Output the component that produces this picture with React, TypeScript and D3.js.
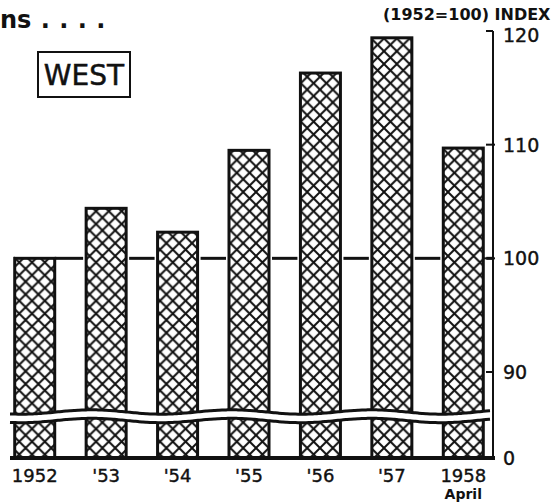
import React from "react";
import * as d3 from "d3";

const categories = ["1952", "'53", "'54", "'55", "'56", "'57", "1958"];
const values = [100, 104.4, 102.3, 109.5, 116.3, 119.4, 109.7];
const tickValues = [120, 110, 100, 90];
const tickLabels = ["120", "110", "100", "90"];
const zeroLabel = "0";
const subLabel = "April";
const indexTitle = "(1952=100) INDEX";
const regionLabel = "WEST";
const headText = "ns . . . .";

export default function App() {
  const W = 559, H = 503;
  const axisX = 493;
  const baseY = 458;
  const y = d3.scaleLinear().domain([90, 120]).range([372, 31]);
  const x = d3.scaleBand<string>().domain(categories).range([-1, 499]).paddingInner(0.44).paddingOuter(0.22);

  const wave = (y0: number, phase: number) => {
    const pts: [number, number][] = [];
    for (let px = 10; px <= axisX; px += 4) {
      pts.push([px, y0 + 2.2 * Math.sin((px / 140) * 2 * Math.PI + phase)]);
    }
    return pts;
  };
  const upper = wave(412, 0.6);
  const lower = wave(420.5, 0.6);
  const lineGen = d3.line<[number, number]>().curve(d3.curveBasis);
  const bandPts = [...upper, ...lower.slice().reverse()];

  const segs: [number, number][] = [];
  categories.forEach((c, i) => {
    const start = x(c)! + x.bandwidth() + (i === 0 ? 0 : 3);
    const end = i < categories.length - 1 ? x(categories[i + 1])! - 3 : axisX;
    segs.push([start, end]);
  });
  segs.unshift([14, x(categories[0])!]);

  const font = "'DejaVu Sans', sans-serif";

  return (
    <svg width={W} height={H} style={{ position: "absolute", left: 0, top: 0, background: "#fff" }}>
      <defs>
        <pattern id="hatch" patternUnits="userSpaceOnUse" width={12.8} height={12.8}>
          <rect width={12.8} height={12.8} fill="#fff" />
          <path d="M-1,-1 L13.8,13.8 M13.8,-1 L-1,13.8" stroke="#111" strokeWidth={2} />
        </pattern>
      </defs>
      <rect width={W} height={H} fill="#fff" />

      {segs.map((s, i) => (
        <line key={i} x1={s[0]} x2={s[1]} y1={y(100)} y2={y(100)} stroke="#111" strokeWidth={3} />
      ))}

      {categories.map((c, i) => (
        <rect
          key={c}
          x={x(c)!}
          y={y(values[i])}
          width={x.bandwidth()}
          height={baseY - y(values[i])}
          fill="url(#hatch)"
          stroke="#111"
          strokeWidth={3}
        />
      ))}

      <path d={(lineGen(bandPts) || "") + "Z"} fill="#fff" stroke="none" />
      <path d={lineGen(upper) || ""} fill="none" stroke="#111" strokeWidth={3} />
      <path d={lineGen(lower) || ""} fill="none" stroke="#111" strokeWidth={3} />

      <line x1={10} x2={axisX + 2} y1={baseY} y2={baseY} stroke="#111" strokeWidth={4} />

      <line x1={axisX} x2={axisX} y1={y(120)} y2={baseY} stroke="#111" strokeWidth={2} />
      {tickValues.map((t, i) => (
        <g key={t}>
          <line x1={axisX - (t === 100 ? 10 : 7)} x2={axisX + (t === 100 || t === 110 ? 2 : 0)} y1={y(t)} y2={y(t)} stroke="#111" strokeWidth={2} />
          <text x={axisX + 10} y={y(t) + 7 + (t === 120 ? 4 : 0)} fontFamily={font} fontSize={19} fill="#111" stroke="#111" strokeWidth={0.4}>
            {tickLabels[i]}
          </text>
        </g>
      ))}
      <text x={axisX + 10} y={baseY + 7} fontFamily={font} fontSize={19} fill="#111" stroke="#111" strokeWidth={0.4}>{zeroLabel}</text>

      {categories.map((c) => (
        <text key={c} x={x(c)! + x.bandwidth() / 2} y={482} textAnchor="middle" fontFamily={font} fontSize={18} fill="#111" stroke="#111" strokeWidth={0.4}>
          {c}
        </text>
      ))}
      <text x={x("1958")! + x.bandwidth() / 2} y={499} textAnchor="middle" fontFamily={font} fontSize={14} fontWeight="bold" fill="#111">
        {subLabel}
      </text>

      <text x={383} y={20} fontFamily={font} fontSize={16} fontWeight="bold" fill="#111">{indexTitle}</text>
      <text x={0} y={28} fontFamily={font} fontSize={24} fontWeight="bold" wordSpacing={1} fill="#111" style={{ whiteSpace: "pre" }}>
        {headText}
      </text>
      <rect x={38} y={52} width={92} height={45} fill="none" stroke="#111" strokeWidth={2} />
      <text x={84} y={85} textAnchor="middle" fontFamily={font} fontSize={28} fill="#111" stroke="#111" strokeWidth={0.5}>{regionLabel}</text>
    </svg>
  );
}
